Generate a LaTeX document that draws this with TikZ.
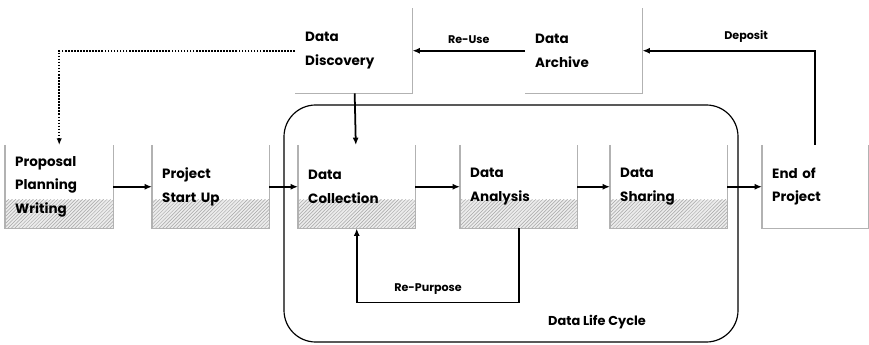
\documentclass[tikz,border=0pt]{standalone}
\usepackage{fontspec}
\setmainfont{Poppins}
\usetikzlibrary{arrows.meta,patterns}
\begin{document}
\begin{tikzpicture}[x=0.03cm,y=-0.03cm,
        stage/.style={anchor=north west,minimum height=2.49cm,text width=2.91cm,
            inner xsep=0.3cm,inner ysep=0pt,align=left,font=\fontsize{11.5}{20}\selectfont\bfseries},
        shaded/.style={path picture={
            \fill [gray!15] (path picture bounding box.south west) rectangle
                ([yshift=0.85cm]path picture bounding box.south east);
            \fill [pattern=north east lines,pattern color=gray!70]
                (path picture bounding box.south west) rectangle
                ([yshift=0.85cm]path picture bounding box.south east);}},
        boxline/.style={gray!60,line width=0.9pt},
        flow/.style={-{Latex[length=2.2mm,width=1.8mm]},line width=1.5pt},
        tag/.style={font=\fontsize{9.5}{12}\selectfont\bfseries}]
    \useasboundingbox (0,0) rectangle (869,345);
    % data life cycle
    \draw [line width=1pt,rounded corners=0.95cm] (284,105) rectangle (738,342);
    \node (cycle) [font=\fontsize{11}{14}\selectfont\bfseries] at (597,322) {Data Life Cycle};
    % upper row
    \node (discovery) [stage,minimum height=2.55cm] at (295,8) {Data\\Discovery};
    \node (archive) [stage,minimum height=2.55cm] at (525,8) {Data\\Archive};
    % lower row
    \node (proposal) [stage,shaded,text width=2.64cm] at (5,145) {Proposal\\Planning\\Writing};
    \node (startup) [stage,shaded] at (152,145) {Project\\Start Up};
    \node (collection) [stage,shaded] at (298,145) {Data\\Collection};
    \node (analysis) [stage,shaded] at (460,145) {Data\\Analysis};
    \node (sharing) [stage,shaded] at (610,145) {Data\\Sharing};
    \node (endp) [stage,text width=2.58cm] at (762,145) {End of\\Project};
    % box outlines
    \foreach \n in {proposal,startup,collection,analysis,sharing,endp}
        \draw [boxline] (\n.north west) -- (\n.south west) -- (\n.south east) -- (\n.north east);
    \foreach \n in {discovery,archive}
        \draw [boxline] (\n.south west) -- (\n.south east) -- (\n.north east);
    % connectors
    \draw [flow] (proposal) -- (startup);
    \draw [flow] (startup) -- (collection);
    \draw [flow] (collection) -- (analysis);
    \draw [flow] (analysis) -- (sharing);
    \draw [flow] (sharing) -- (endp);
    \draw [flow] (discovery) -- (collection);
    \draw [flow] (archive) -- (discovery) node [tag,midway,above=2pt] {Re-Use};
    \draw [flow] (endp.north) |- (archive.east) node [tag,pos=0.7,above=3pt] {Deposit};
    \draw [flow] (analysis.south) -- ++(0,74) -| (collection.south)
        node [tag,pos=0.28,above=3pt] {Re-Purpose};
    \draw [-{Latex[length=2mm,width=1.6mm]},line width=1.4pt,dash pattern=on 1.4pt off 1.2pt]
        (discovery.west) -| (proposal.north);
\end{tikzpicture}
\end{document}
